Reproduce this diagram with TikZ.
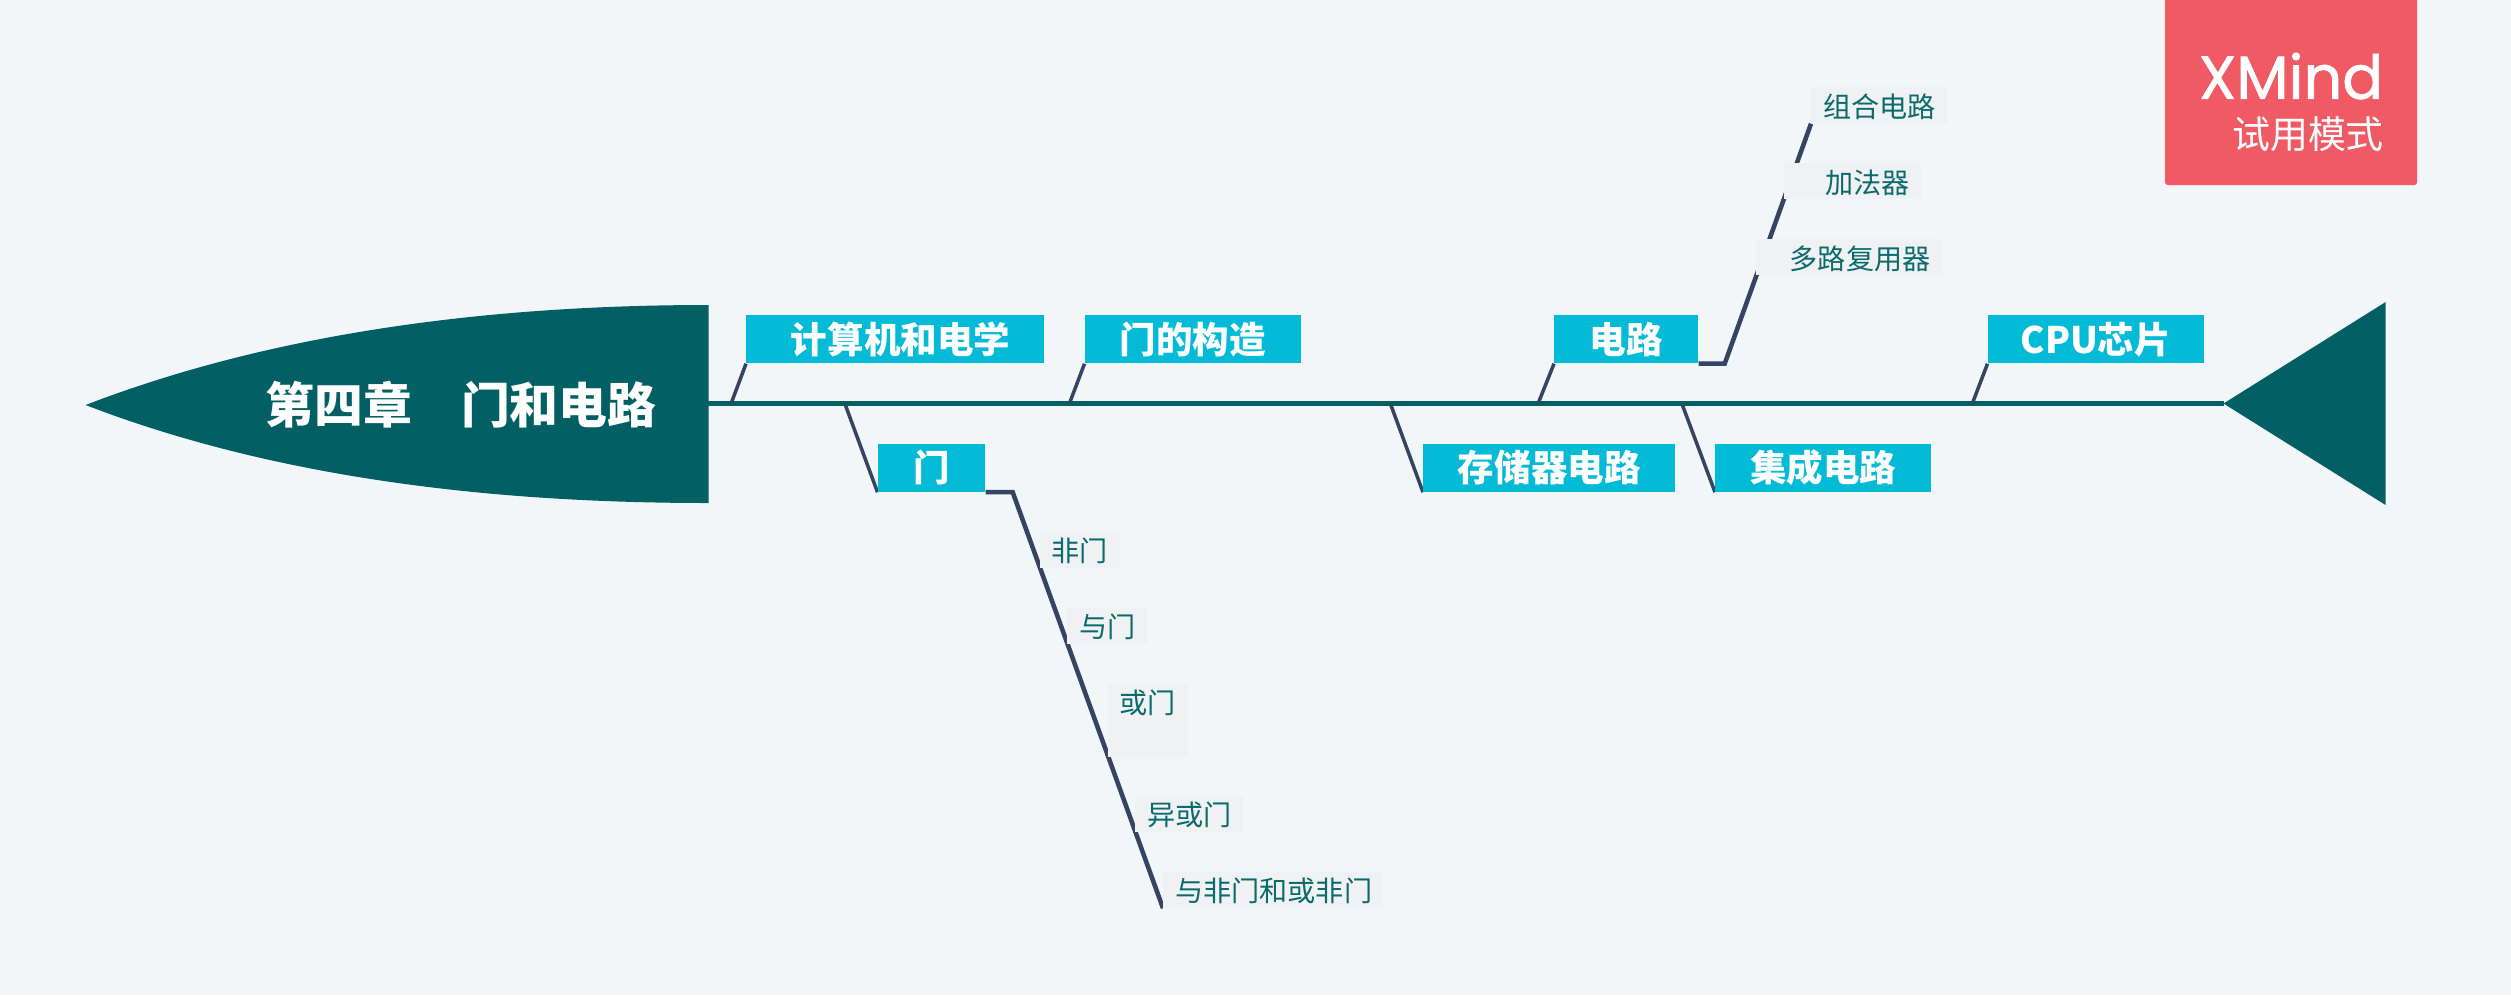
\documentclass[tikz,border=0pt]{standalone}
\usepackage{fontspec}
\setmainfont{Noto Sans CJK SC}
\newfontfamily\logofont[FakeBold=1.2]{Poppins}
\usepackage{xcolor}
\usetikzlibrary{backgrounds}
\definecolor{pagebg}{HTML}{F3F6F9}
\definecolor{fishcolor}{HTML}{026064}
\definecolor{topiccolor}{HTML}{03BBD6}
\definecolor{linecolor}{HTML}{344563}
\definecolor{subcolor}{HTML}{F0F1F3}
\definecolor{subtext}{HTML}{0A6A6C}
\definecolor{logocolor}{HTML}{F05A64}

\begin{document}
\begin{tikzpicture}[x=0.02cm, y=-0.02cm,
  topic/.style={anchor=north west, fill=topiccolor, text=white, inner sep=0pt,
    minimum height=0.96cm, font=\fontsize{20.8}{24}\selectfont\bfseries},
  subtopic/.style={anchor=north west, fill=subcolor, text=subtext, inner xsep=0.24cm, inner ysep=0pt,
    text height=0.6cm, text depth=0.12cm, align=right, font=\fontsize{16}{18}\selectfont},
  branch/.style={draw=linecolor, line width=2pt},
  subbranch/.style={draw=linecolor, line width=2.6pt, line join=miter},
]
\useasboundingbox (0,0) rectangle (2511,995);

% Main topic text
\node (title) at (461,405) [text=white, font=\fontsize{27.8}{32}\selectfont\bfseries] {第四章　门和电路};

% Topics above the spine
\node[topic, minimum width=5.96cm] (computer) at (746,315) {\hspace{6pt}计算机和电学};
\node[topic, minimum width=4.32cm] (gatemaking) at (1084.5,315) {门的构造};
\node[topic, minimum width=2.88cm] (circuit) at (1554,315) {电路};
\node[topic, minimum width=4.32cm] (cpu) at (1987.5,315) {CPU芯片};

% Topics below the spine
\node[topic, minimum width=2.15cm] (gate) at (877.5,443.5) {门};
\node[topic, minimum width=5.04cm] (memory) at (1423,443.5) {存储器电路};
\node[topic, minimum width=4.32cm] (integrated) at (1715,443.5) {集成电路};

% Children of the gate topic
\node[subtopic, text width=1.12cm] (notgate) at (1039.5,531.5) {非门};
\node[subtopic, text width=1.12cm] (andgate) at (1067,607.5) {与门};
\node[subtopic, text width=1.12cm, text depth=0.86cm] (orgate) at (1107.5,683.5) {或门};
\node[subtopic, text width=1.68cm] (xorgate) at (1135,795.5) {异或门};
\node[subtopic, text width=3.92cm] (nandgate) at (1163,871.5) {与非门和或非门};

% Children of the circuit topic
\node[subtopic, text width=2.24cm] (combine) at (1811,87) {组合电路};
\node[subtopic, text width=2.26cm] (adder) at (1784,163) {加法器};
\node[subtopic, text width=3.24cm] (mux) at (1756,239) {多路复用器};

% Trial badge
\fill[logocolor, rounded corners=1.5pt] (2165,-5) rectangle (2417,185);
\node (xmind) at (2291,76) [text=white, font=\fontsize{34.5}{38}\logofont] {XMind};
\node (trial) at (2308,134) [text=white, font=\fontsize{21.6}{24}\selectfont] {试用模式};

\begin{scope}[on background layer]
\fill[pagebg] (0,0) rectangle (2511,995);

% Head and tail of the fish
\fill[fishcolor] (85.6,405) .. controls (280,330) and (500,305) .. (708.5,305)
  -- (708.5,503) .. controls (500,503) and (280,480) .. cycle;
\fill[fishcolor] (2223.5,403.5) -- (2385.6,302) -- (2385.6,505) -- cycle;

\coordinate (spineleft) at (708,403.5);
\coordinate (spineright) at (2224,403.5);
\draw[fishcolor, line width=3.2pt] (spineleft) -- (spineright);

% Spine points of the branches
\coordinate (computerfoot) at (731.3,403);
\coordinate (gatemakingfoot) at (1069.6,403);
\coordinate (circuitfoot) at (1538.3,403);
\coordinate (cpufoot) at (1972.5,403);
\coordinate (gatefoot) at (845,404);
\coordinate (memoryfoot) at (1390.5,404);
\coordinate (integratedfoot) at (1682,404);

\foreach \name in {computer, gatemaking, circuit, cpu}
  \draw[branch] (\name.south west) -- (\name foot);
\foreach \name in {gate, memory, integrated}
  \draw[branch] (\name foot) -- (\name.south west);

% Sub branches with an elbow
\draw[subbranch] (gate.south east) -- ++(27,0) coordinate (gateelbow) -- (nandgate.south west);
\draw[subbranch] (circuit.south east) -- ++(26,0) coordinate (circuitelbow) -- (combine.south west);
\end{scope}

\end{tikzpicture}
\end{document}
